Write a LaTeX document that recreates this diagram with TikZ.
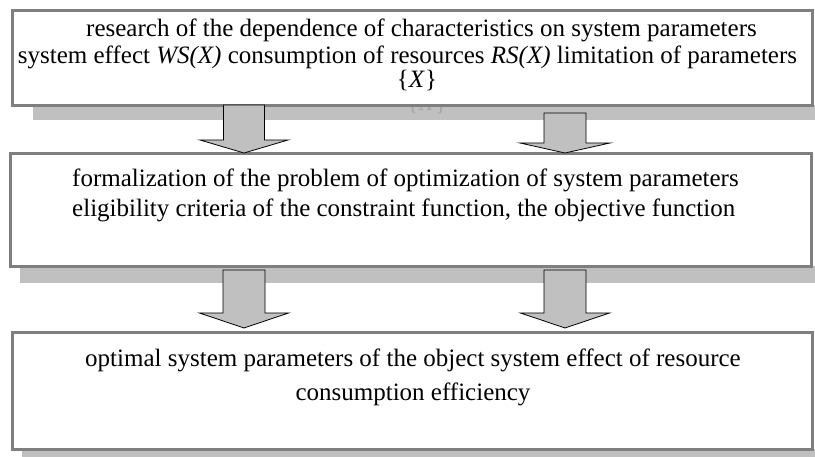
\documentclass[tikz,border=0pt]{standalone}
\usepackage{fontspec}
\setmainfont{Liberation Serif}
\definecolor{boxgray}{HTML}{7F7F7F}
\definecolor{shadowgray}{HTML}{C0C0C0}
\definecolor{arrowgray}{HTML}{C0C0C0}
\definecolor{ghostgray}{HTML}{A8A8A8}
\newcommand\blockarr[6]{%
  \draw[blockarrow] (#1-#2,#4) -- (#1+#2,#4) -- (#1+#2,#5) -- (#1+#3,#5) -- (#1,#6)
    -- (#1-#3,#5) -- (#1-#2,#5) -- cycle;}
\begin{document}
\begin{tikzpicture}[x=1pt,y=-1pt,
  box/.style={draw=boxgray,line width=3pt,fill=white,rectangle,inner sep=0pt,outer sep=0pt},
  shadowbox/.style={fill=shadowgray},
  blockarrow/.style={draw=black,line width=0.8pt,fill=arrowgray,line join=miter},
  txt/.style={inner sep=0pt,anchor=base,font=\fontsize{25}{30}\selectfont}]
\useasboundingbox (0,0) rectangle (815,457);
\fill[white] (0,0) rectangle (815,457);
% shadows
\fill[shadowbox] (33,105) rectangle (815,120);
\fill[shadowbox] (20,266) rectangle (815,283);
\fill[shadowbox] (22,449) rectangle (815,457);
% ghost text under first box
\node[txt,text=ghostgray] (ghost) at (427,111) {\{\textit{X}\}};
% boxes
\node[box,minimum width=800pt,minimum height=95pt] (b1) at (412.5,58) {};
\node[box,minimum width=800.5pt,minimum height=113pt] (b2) at (410.75,210) {};
\node[box,minimum width=800pt,minimum height=117pt] (b3) at (412.5,391) {};
% texts
\node[txt] (t1a) at (421.5,36.7) {research of the dependence of characteristics on system parameters};
\node[txt] (t1b) at (407.5,63.3) {system effect \textit{WS(X)} consumption of resources \textit{RS(X)} limitation of parameters};
\node[txt] (t1c) at (417,88) {\{\textit{X}\}};
\node[txt,anchor=base west] (t2a) at (72,187) {formalization of the problem of optimization of system parameters};
\node[txt,anchor=base west] (t2b) at (72,217) {eligibility criteria of the constraint function, the objective function};
\node[txt] (t3a) at (413,367) {optimal system parameters of the object system effect of resource};
\node[txt] (t3b) at (413,400) {consumption efficiency};
% block arrows
\blockarr{244}{20.5}{44}{105}{140}{153}
\blockarr{565}{21}{45}{113}{143}{153}
\blockarr{244}{21}{44.5}{270}{313}{328}
\blockarr{565}{21}{44.5}{270}{313}{328}
\end{tikzpicture}
\end{document}
